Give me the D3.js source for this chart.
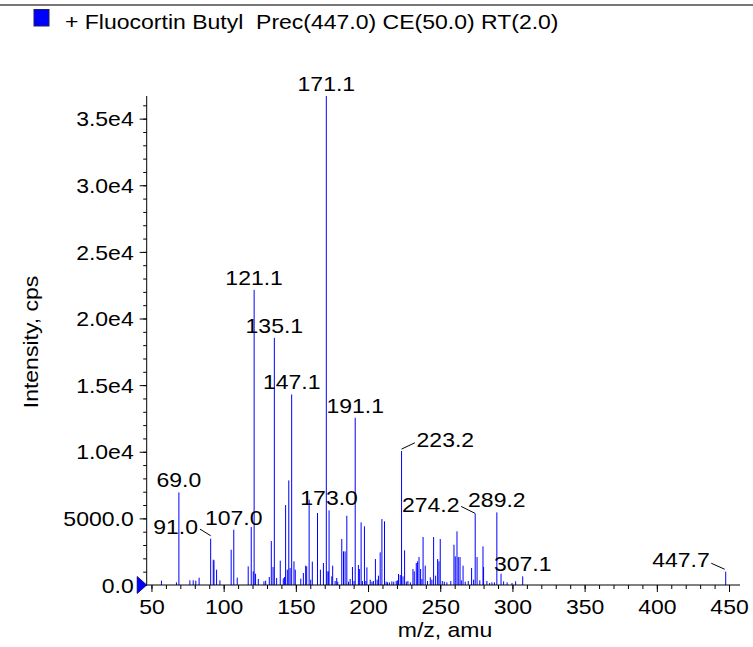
<!DOCTYPE html>
<html><head><meta charset="utf-8">
<script src="https://cdn.jsdelivr.net/npm/d3@7"></script>
<style>
body{margin:0;background:#fff}
text{font-family:"Liberation Sans",Arial,Helvetica,sans-serif;fill:#000}
</style>
</head><body>
<svg id="chart" width="753" height="647"></svg>
<script>
// ---- data ----
const mzValues = [56.9,67.3,69.0,76.6,78.9,80.7,83.0,91.0,92.8,93.3,95.1,97.4,105.2,107.0,109.4,117.0,119.1,120.5,121.1,122.1,124.0,127.9,129.1,131.6,133.0,134.2,135.1,136.7,139.2,141.3,142.2,142.9,144.1,145.1,146.0,147.1,148.7,149.6,153.4,155.2,156.8,157.5,159.2,160.3,161.4,165.0,167.0,169.1,171.1,171.6,172.5,173.0,174.9,175.5,177.2,178.3,179.0,181.8,183.0,184.1,185.3,186.5,187.6,189.2,190.3,191.1,193.3,194.0,195.2,196.1,197.5,198.5,199.2,201.5,202.7,203.7,205.1,206.3,207.2,208.4,209.6,211.4,212.5,213.5,214.8,216.5,217.8,219.5,220.3,221.1,222.3,223.2,224.2,225.3,226.5,227.6,229.3,231.1,232.0,233.4,234.3,235.3,236.4,237.3,238.1,239.6,241.2,243.1,244.2,245.4,246.8,248.2,249.1,250.0,251.4,252.8,254.6,257.3,259.5,260.4,261.6,262.5,263.7,264.6,265.8,267.3,269.4,271.7,273.1,274.2,275.5,277.4,279.6,280.0,282.3,284.2,285.8,287.5,289.2,292.1,293.9,296.3,299.7,302.2,307.1,447.7];
const intensities = [325,200,6950,350,350,325,550,3475,1900,1850,1150,350,2650,4150,550,1400,4350,1025,22150,850,450,275,325,600,3300,1350,18550,525,1825,500,600,6000,1150,7850,1275,14300,1775,1150,475,900,1450,1400,6400,400,1750,5400,1150,1650,36700,1025,1025,5600,650,1450,300,525,250,3450,2525,2525,5200,250,450,1350,300,12550,1500,1200,4700,300,4400,300,1325,400,250,300,1950,400,700,2450,4950,4775,250,200,200,275,250,300,350,825,750,10050,650,2600,250,300,200,1200,1025,1650,1775,2100,1200,450,3600,1450,300,575,400,3600,700,1950,1775,3450,300,250,200,300,3025,2150,4025,2100,2100,350,1450,250,300,1275,400,5350,2100,350,2900,1350,300,150,200,200,5450,850,275,200,150,275,650,1000];
const peakLabels = ["69.0","91.0","107.0","121.1","135.1","147.1","171.1","173.0","191.1","223.2","274.2","289.2","307.1","447.7"];
const xTickValues = [50,100,150,200,250,300,350,400,450];
const yTickValues = [0,5000,10000,15000,20000,25000,30000,35000];
const yTickLabels = ["0.0","5000.0","1.0e4","1.5e4","2.0e4","2.5e4","3.0e4","3.5e4"];
const legendText = "+ Fluocortin Butyl  Prec(447.0) CE(50.0) RT(2.0)";
const xTitle = "m/z, amu";
const yTitle = "Intensity, cps";

// ---- layout / style ----
const SX = 1.15;           // horizontal glyph stretch of the original text
const FS = 20;
const svg = d3.select("#chart");
const x = d3.scaleLinear().domain([46.7, 457.6]).range([146.7, 740]);
const y = d3.scaleLinear().domain([0, 36700]).range([585, 96]);
const blue = "#0000ff";

// top rule
svg.append("line").attr("x1",0).attr("x2",753).attr("y1",5).attr("y2",5)
  .attr("stroke","#4a4a4a").attr("stroke-width",1.5);

// legend
svg.append("rect").attr("x",34).attr("y",9.5).attr("width",15).attr("height",16.5)
  .attr("fill",blue).attr("stroke","#20205a").attr("stroke-width",1);
svg.append("text").attr("transform",`translate(65,29.3) scale(${SX},1)`)
  .style("font-size",FS+"px").style("white-space","pre").text(legendText);

// bars
const bars = mzValues.map((m,i)=>({mz:m, v:intensities[i]}));
svg.append("g").selectAll("line").data(bars).join("line")
  .attr("x1",d=>x(d.mz)).attr("x2",d=>x(d.mz))
  .attr("y1",y(0)).attr("y2",d=>y(d.v))
  .attr("stroke",blue).attr("stroke-width",1);

// axes
function stretchText(sel, anchorX){
  sel.selectAll("text").each(function(){
    const t = d3.select(this);
    const tx = +t.attr("x") || 0, ty = +t.attr("y") || 0;
    t.attr("transform",`translate(${tx},${ty}) scale(${SX},1)`).attr("x",null).attr("y",null);
  });
}
const yMinor = d3.range(0, 36001, 1000);
const gyMinor = svg.append("g").attr("transform",`translate(${x.range()[0]},0)`)
  .call(d3.axisLeft(y).tickValues(yMinor).tickSize(3.5).tickFormat(""));
gyMinor.select(".domain").remove();
const gy = svg.append("g").attr("transform",`translate(${x.range()[0]},0)`)
  .call(d3.axisLeft(y).tickValues(yTickValues).tickSize(7).tickPadding(6)
        .tickFormat((d,i)=>yTickLabels[i]));
gy.select(".domain").attr("d",`M0,${y.range()[1]}V${y.range()[0]}`);
gy.selectAll("text").style("font-size",FS+"px").attr("dy",null).attr("y",7.2);
stretchText(gy);

const xMinor = d3.range(50, 451, 10);
const gxMinor = svg.append("g").attr("transform",`translate(0,${y(0)})`)
  .call(d3.axisBottom(x).tickValues(xMinor).tickSize(4).tickFormat(""));
gxMinor.select(".domain").remove();
const gx = svg.append("g").attr("transform",`translate(0,${y(0)})`)
  .call(d3.axisBottom(x).tickValues(xTickValues).tickSize(7).tickFormat(d3.format("d")));
gx.select(".domain").attr("d",`M${x.range()[0]},0H${x.range()[1]}`);
gx.selectAll("text").style("font-size",FS+"px").attr("dy",null).attr("y",29);
stretchText(gx);
svg.selectAll(".domain, .tick line").attr("stroke","#000");
svg.selectAll(".tick text").attr("fill","#000");

// zero marker triangle
svg.append("path")
  .attr("d",`M${x.range()[0]-9.5},${y(0)-8.5}L${x.range()[0]},${y(0)}L${x.range()[0]-9.5},${y(0)+8.5}Z`)
  .attr("fill",blue).attr("stroke","#00006a").attr("stroke-width",0.8);

// axis titles
svg.append("text").attr("transform",`translate(445,637) scale(${SX},1)`)
  .attr("text-anchor","middle").style("font-size",FS+"px").text(xTitle);
svg.append("text").attr("transform",`translate(38,342) rotate(-90) scale(${SX},1)`)
  .attr("text-anchor","middle").style("font-size",FS+"px").text(yTitle);

// peak labels
const placement = {
  "91.0":  {anchor:"end",   dx:-12.7, dy:-4.6, leader:[-10.7,-9.6,0,-3]},
  "223.2": {anchor:"start", dx:15,    dy:-4.3, leader:[0,-2,13.3,-8.3]},
  "274.2": {anchor:"end",   dx:-15.7, dy:-1.6, leader:[-14,-7.3,0,-0.3]},
  "447.7": {anchor:"end",   dx:-16,   dy:-4.4, leader:[-14.4,-8.4,-1,-2.4]}
};
const gl = svg.append("g");
peakLabels.forEach(lbl=>{
  const m = +lbl;
  const b = bars.find(d=>Math.abs(d.mz-m)<0.01);
  const bx = x(b.mz), by = y(b.v);
  const p = placement[lbl] || {anchor:"middle", dx:0, dy:-5};
  gl.append("text").attr("transform",`translate(${bx+p.dx},${by+p.dy}) scale(${SX},1)`)
    .attr("text-anchor",p.anchor).style("font-size",FS+"px").text(lbl);
  if(p.leader){
    gl.append("line").attr("x1",bx+p.leader[0]).attr("y1",by+p.leader[1])
      .attr("x2",bx+p.leader[2]).attr("y2",by+p.leader[3])
      .attr("stroke","#000").attr("stroke-width",1);
  }
});
</script>
</body></html>
